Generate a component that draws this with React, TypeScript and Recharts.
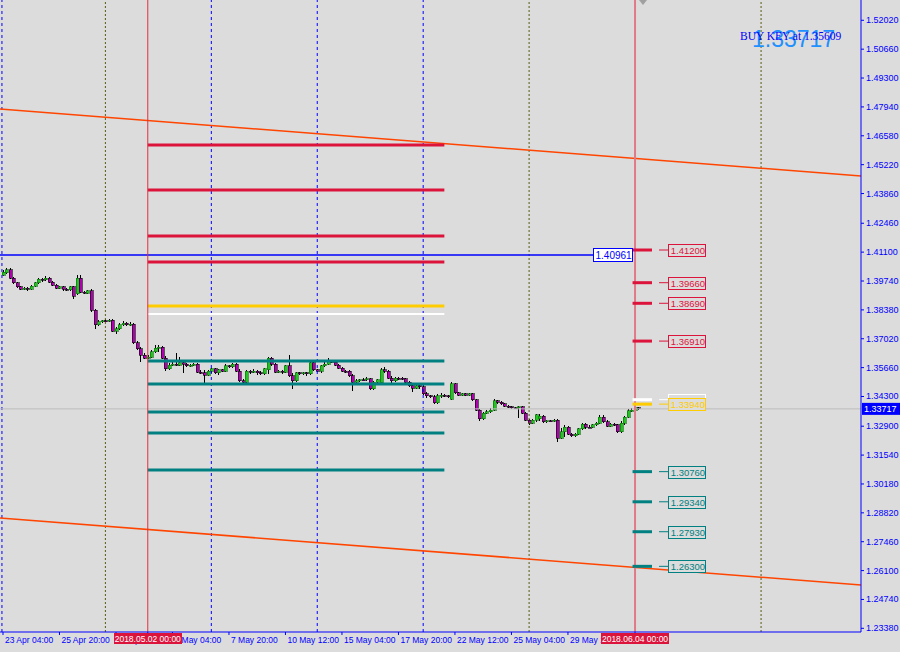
import { Bar, ComposedChart, ReferenceDot, ReferenceLine, XAxis, YAxis } from "recharts";

// H4 candles, 23 Apr 04:00 -> 4 Jun 04:00 (index = bar number)
const opens = [
  1.4002, 1.4012, 1.4026, 1.3988, 1.3965, 1.3946, 1.3936, 1.3941, 1.3936, 1.395,
  1.3965, 1.3983, 1.3979, 1.3988, 1.3969, 1.3955, 1.3941, 1.3946, 1.3936, 1.3932,
  1.3946, 1.3913, 1.3988, 1.3922, 1.3917, 1.3927, 1.3837, 1.3767, 1.3781, 1.3786,
  1.3786, 1.379, 1.3738, 1.3748, 1.3767, 1.3776, 1.3767, 1.3771, 1.3682, 1.3654,
  1.3625, 1.3611, 1.3616, 1.364, 1.3658, 1.3663, 1.3611, 1.356, 1.3578, 1.3583,
  1.3578, 1.3588, 1.3583, 1.3574, 1.3578, 1.3583, 1.3545, 1.3541, 1.3531, 1.355,
  1.356, 1.3541, 1.3555, 1.355, 1.3574, 1.3569, 1.3583, 1.355, 1.3503, 1.3498,
  1.355, 1.3545, 1.355, 1.3541, 1.3536, 1.3555, 1.3611, 1.3583, 1.3545, 1.355,
  1.3545, 1.3574, 1.3527, 1.3503, 1.3541, 1.3536, 1.3541, 1.3536, 1.3588, 1.3555,
  1.355, 1.3574, 1.3583, 1.3597, 1.3592, 1.3578, 1.3564, 1.355, 1.355, 1.3527,
  1.3498, 1.3503, 1.3508, 1.3508, 1.3513, 1.3466, 1.3498, 1.3494, 1.3555, 1.355,
  1.3517, 1.3503, 1.3517, 1.3517, 1.3513, 1.3498, 1.348, 1.347, 1.348, 1.3475,
  1.3442, 1.3433, 1.3428, 1.34, 1.3433, 1.3437, 1.3433, 1.3418, 1.3489, 1.3447,
  1.3437, 1.3442, 1.3437, 1.3442, 1.3414, 1.3366, 1.3324, 1.3352, 1.3357, 1.3366,
  1.3409, 1.3404, 1.3395, 1.3385, 1.3381, 1.3376, 1.3376, 1.3381, 1.3352, 1.3319,
  1.3305, 1.3319, 1.3324, 1.3338, 1.331, 1.3315, 1.3315, 1.3319, 1.3234, 1.3263,
  1.3286, 1.3253, 1.3244, 1.3253, 1.3277, 1.33, 1.3286, 1.3286, 1.3296, 1.3305,
  1.3333, 1.331, 1.3291, 1.33, 1.3296, 1.3263, 1.3305, 1.3333, 1.3362, 1.3366,
  1.3376,
];
const highs = [
  1.4026, 1.4035, 1.4035, 1.3993, 1.3969, 1.395, 1.3946, 1.3946, 1.3955, 1.3969,
  1.3988, 1.3988, 1.3998, 1.3993, 1.3974, 1.396, 1.395, 1.395, 1.3941, 1.395,
  1.395, 1.4002, 1.4002, 1.3927, 1.3932, 1.3936, 1.3842, 1.379, 1.379, 1.3795,
  1.3795, 1.3795, 1.3757, 1.3776, 1.3786, 1.3781, 1.3781, 1.3776, 1.3691, 1.3663,
  1.3635, 1.3625, 1.3649, 1.3673, 1.3673, 1.3668, 1.3621, 1.3588, 1.3592, 1.3635,
  1.3616, 1.3597, 1.3588, 1.3583, 1.3588, 1.3588, 1.3555, 1.3555, 1.3555, 1.3564,
  1.3564, 1.356, 1.356, 1.3583, 1.3578, 1.3588, 1.3588, 1.356, 1.3513, 1.3555,
  1.3555, 1.356, 1.3555, 1.355, 1.3564, 1.3616, 1.3616, 1.3588, 1.3555, 1.3555,
  1.3578, 1.3625, 1.3541, 1.3545, 1.3545, 1.3545, 1.3545, 1.3592, 1.3592, 1.356,
  1.3578, 1.3592, 1.3611, 1.3602, 1.3597, 1.3583, 1.3569, 1.3555, 1.3555, 1.3536,
  1.3513, 1.3513, 1.3517, 1.3522, 1.3517, 1.3503, 1.3513, 1.3564, 1.3569, 1.3555,
  1.3527, 1.3522, 1.3522, 1.3522, 1.3517, 1.3503, 1.3484, 1.3484, 1.3484, 1.3484,
  1.3451, 1.3437, 1.3437, 1.3442, 1.3447, 1.3442, 1.3437, 1.3498, 1.3494, 1.3451,
  1.3447, 1.3447, 1.3447, 1.3447, 1.3418, 1.3371, 1.3357, 1.3366, 1.3376, 1.3418,
  1.3414, 1.3409, 1.34, 1.339, 1.3385, 1.3381, 1.3385, 1.3385, 1.3357, 1.3324,
  1.3324, 1.3348, 1.3348, 1.3343, 1.3319, 1.3319, 1.3324, 1.3324, 1.3282, 1.3296,
  1.3291, 1.3258, 1.3258, 1.3282, 1.3305, 1.3305, 1.3296, 1.33, 1.331, 1.3343,
  1.3343, 1.3319, 1.3305, 1.3305, 1.33, 1.3315, 1.3338, 1.3371, 1.3376, 1.3385,
  1.3381,
];
const lows = [
  1.3998, 1.4007, 1.3983, 1.396, 1.3941, 1.3932, 1.3932, 1.3927, 1.3932, 1.3946,
  1.396, 1.3969, 1.3974, 1.3965, 1.395, 1.3936, 1.3936, 1.3927, 1.3927, 1.3927,
  1.3889, 1.3908, 1.3917, 1.3913, 1.3913, 1.3828, 1.3748, 1.3762, 1.3776, 1.3781,
  1.3781, 1.3734, 1.3724, 1.3743, 1.3762, 1.3762, 1.3762, 1.3677, 1.3649, 1.3592,
  1.3607, 1.3607, 1.3611, 1.3635, 1.364, 1.3607, 1.355, 1.3555, 1.3574, 1.3574,
  1.3574, 1.3541, 1.3569, 1.3569, 1.3574, 1.3541, 1.3536, 1.3494, 1.3527, 1.3541,
  1.3536, 1.3531, 1.3545, 1.3545, 1.3564, 1.3564, 1.3545, 1.3498, 1.3494, 1.3494,
  1.3536, 1.3541, 1.3531, 1.3531, 1.3531, 1.3536, 1.3574, 1.3541, 1.3541, 1.3536,
  1.3541, 1.3522, 1.3466, 1.3498, 1.3531, 1.3531, 1.3527, 1.3531, 1.355, 1.3545,
  1.3541, 1.3569, 1.3578, 1.3588, 1.3574, 1.356, 1.3545, 1.3541, 1.3522, 1.3456,
  1.3494, 1.3498, 1.3503, 1.3503, 1.3461, 1.3461, 1.3489, 1.3489, 1.3541, 1.3513,
  1.3489, 1.3498, 1.3508, 1.3508, 1.3494, 1.3475, 1.3451, 1.3466, 1.3466, 1.3437,
  1.3423, 1.3423, 1.3395, 1.3395, 1.3423, 1.3428, 1.3423, 1.3414, 1.3442, 1.3433,
  1.3433, 1.3433, 1.3433, 1.3409, 1.3362, 1.3315, 1.3319, 1.3348, 1.3352, 1.3362,
  1.3395, 1.339, 1.3381, 1.3376, 1.3371, 1.3371, 1.3329, 1.3348, 1.3315, 1.3296,
  1.33, 1.331, 1.3315, 1.3305, 1.3305, 1.331, 1.331, 1.3215, 1.323, 1.3239,
  1.3249, 1.3239, 1.3239, 1.3249, 1.3272, 1.3277, 1.3282, 1.3282, 1.3291, 1.33,
  1.3305, 1.3286, 1.3286, 1.3291, 1.3258, 1.3258, 1.3296, 1.3329, 1.3357, 1.3343,
  1.3366,
];
const closes = [
  1.4016, 1.4026, 1.3988, 1.3965, 1.3946, 1.3936, 1.3941, 1.3936, 1.395, 1.3965,
  1.3983, 1.3979, 1.3988, 1.3969, 1.3955, 1.3941, 1.3946, 1.3936, 1.3932, 1.3946,
  1.3903, 1.3988, 1.3922, 1.3917, 1.3927, 1.3837, 1.3767, 1.3781, 1.3786, 1.3785,
  1.379, 1.3738, 1.3748, 1.3767, 1.3776, 1.3767, 1.3771, 1.3682, 1.3654, 1.3625,
  1.3611, 1.3616, 1.364, 1.3658, 1.3663, 1.3611, 1.356, 1.3578, 1.3583, 1.3578,
  1.3588, 1.3583, 1.3574, 1.3578, 1.3583, 1.3545, 1.3541, 1.3531, 1.355, 1.356,
  1.3541, 1.3555, 1.355, 1.3574, 1.3569, 1.3583, 1.355, 1.3503, 1.3498, 1.355,
  1.3545, 1.355, 1.3541, 1.3536, 1.356, 1.3611, 1.3583, 1.3545, 1.355, 1.3545,
  1.3574, 1.3527, 1.3503, 1.3541, 1.3536, 1.3541, 1.3536, 1.3588, 1.3555, 1.355,
  1.3574, 1.3583, 1.3597, 1.3592, 1.3578, 1.3564, 1.355, 1.3548, 1.3527, 1.3498,
  1.3503, 1.3508, 1.3506, 1.3513, 1.3466, 1.3498, 1.3508, 1.3555, 1.355, 1.3517,
  1.3503, 1.3517, 1.3515, 1.3513, 1.3498, 1.348, 1.347, 1.348, 1.3475, 1.3442,
  1.3433, 1.3428, 1.34, 1.3433, 1.3437, 1.3433, 1.3428, 1.3489, 1.3447, 1.3437,
  1.3442, 1.3437, 1.3442, 1.3414, 1.3366, 1.3324, 1.3352, 1.3357, 1.3366, 1.3409,
  1.3404, 1.3395, 1.3385, 1.3381, 1.3376, 1.3374, 1.3381, 1.3352, 1.3319, 1.3305,
  1.3319, 1.3343, 1.3338, 1.331, 1.3315, 1.3313, 1.3319, 1.3234, 1.3263, 1.3286,
  1.3253, 1.3244, 1.3253, 1.3277, 1.33, 1.3286, 1.3284, 1.3296, 1.3305, 1.3333,
  1.331, 1.3291, 1.33, 1.3296, 1.3263, 1.3305, 1.3333, 1.3362, 1.3366, 1.3376,
  1.33717,
];

const timeTickIdx = [0, 16, 32, 48, 64, 80, 96, 112, 128, 144, 160];
const timeTickLabels = [
  "23 Apr 04:00", "25 Apr 20:00", "30 Apr 12:00", "3 May 04:00", "7 May 20:00", "10 May 12:00",
  "15 May 04:00", "17 May 20:00", "22 May 12:00", "25 May 04:00", "29 May 20:00",
];
const priceTicks = [
  1.5202, 1.5066, 1.493, 1.4794, 1.4658, 1.4522, 1.4386, 1.4246, 1.411, 1.3974, 1.3838,
  1.3702, 1.3566, 1.343, 1.329, 1.3154, 1.3018, 1.2882, 1.2746, 1.261, 1.2474, 1.2338,
];

// drawn objects
const zoneFrom = 41;
const zoneTo = 125;
const redZone = [1.46146, 1.44026, 1.41859, 1.40635];
const tealZone = [1.35972, 1.34889, 1.3357, 1.32581, 1.30838];
const goldZone = 1.38562;
const whiteZone = 1.38186;

const redTargets = [1.412, 1.3966, 1.3869, 1.3691];
const tealTargets = [1.3076, 1.2934, 1.2793, 1.263];
const whiteTarget = 1.3415;
const goldTarget = 1.3394;

const channelEnds = [-0.85, 243];
const upperChannel = [1.47841, 1.44685];
const lowerChannel = [1.28577, 1.25422];

const blueLevel = 1.40961;
const blueLevelEnd = 167.1;
const bid = 1.33717;
const buyKey = 1.35609;

const blueSeparators = [-0.3, 59, 89, 119];
const darkSeparators = [29, 149, 214.7];
const dateLines = [41, 179];
const dateLineLabels = ["2018.05.02 00:00", "2018.06.04 00:00"];

const data = closes.map((c, i) => ({ i, open: opens[i], high: highs[i], low: lows[i], close: c }));

const BG = "#dcdcdc";
const AXIS = "#0000ff";
const FONT = "'Liberation Sans', Arial, sans-serif";

const Candle = (props: any) => {
  const { x, y, width, height, payload } = props;
  const { open, close, high, low } = payload;
  const cx = Math.round(x + width / 2) + 0.5;
  const py = (v: number) => (high === low ? y : y + ((high - v) / (high - low)) * height);
  const up = close >= open;
  const top = py(Math.max(open, close));
  const bot = py(Math.min(open, close));
  return (
    <g shapeRendering="crispEdges">
      <line x1={cx} x2={cx} y1={y} y2={y + height} stroke="#000" strokeWidth={1} />
      <rect
        x={cx - 1.5}
        y={top}
        width={3}
        height={Math.max(bot - top, 1)}
        fill={up ? "#22c422" : "#b000b0"}
        stroke={up ? "#0a6a0a" : "#000"}
        strokeWidth={0.6}
      />
    </g>
  );
};

// time labels first, the two red date boxes last so they cover what lies under them
const TimeTick = (p: any) => {
  const v = p.payload.value;
  const d = dateLines.indexOf(v);
  if (d >= 0) {
    return (
      <g>
        <rect x={Math.round(p.x) - 34} y={p.y - 2} width={68} height={11} fill="#dc143c" />
        <text x={p.x} y={p.y + 7} textAnchor="middle" fontSize={8.5} fontFamily={FONT} fill="#fff">
          {dateLineLabels[d]}
        </text>
      </g>
    );
  }
  return (
    <text x={p.x + 2} y={p.y + 8} fontSize={8.5} fontFamily={FONT} fill={AXIS}>
      {timeTickLabels[timeTickIdx.indexOf(v)]}
    </text>
  );
};

const PriceTick = (p: any) => (
  <text x={p.x} y={p.y + 3} fontSize={9} fontFamily={FONT} fill={AXIS}>
    {Number(p.payload.value).toFixed(5)}
  </text>
);

const priceBox = (color: string, fill: string, text: string) => (p: any) => (
  <g>
    <rect x={Math.round(p.cx) + 0.5} y={Math.round(p.cy) - 5.5} width={37} height={12} fill={fill} stroke={color} shapeRendering="crispEdges" />
    <text x={p.cx + 2.5} y={p.cy + 4} fontSize={9.5} fontFamily={FONT} fill={color}>
      {text}
    </text>
  </g>
);

const targetMarks = (levels: number[], color: string, fill: string) =>
  levels.flatMap((v, k) => [
    <ReferenceLine key={`m${color}${k}`} ifOverflow="visible" stroke={color} strokeWidth={3}
      segment={[{ x: 178.3, y: v }, { x: 183.8, y: v }]} />,
    <ReferenceLine key={`c${color}${k}`} ifOverflow="visible" stroke={color} strokeWidth={1}
      segment={[{ x: 185.8, y: v }, { x: 188.4, y: v }]} />,
    <ReferenceDot key={`b${color}${k}`} ifOverflow="visible" x={188.4} y={v} r={0}
      shape={priceBox(color, fill, v.toFixed(5))} />,
  ]);

export default function App() {
  return (
    <div style={{ position: "relative", width: 900, height: 652, background: BG, overflow: "hidden" }}>
      <style>{"body{margin:0}"}</style>
      <ComposedChart width={900} height={652} data={data} margin={{ top: 0, right: 0, bottom: 0, left: 0 }}>
        <XAxis
          dataKey="i"
          type="number"
          domain={[-0.85, 243]}
          allowDataOverflow
          ticks={[...timeTickIdx, ...dateLines]}
          interval={0}
          height={20}
          tickSize={3}
          tickMargin={0}
          stroke={AXIS}
          tick={<TimeTick />}
        />
        <YAxis
          orientation="right"
          type="number"
          domain={[1.23207, 1.52976]}
          allowDataOverflow
          ticks={priceTicks}
          interval={0}
          width={39}
          tickSize={3}
          tickMargin={2}
          stroke={AXIS}
          tick={<PriceTick />}
        />

        {blueSeparators.map((v) => (
          <ReferenceLine key={`bs${v}`} x={v} ifOverflow="visible" stroke="#0000ff" strokeDasharray="3 3" />
        ))}
        {darkSeparators.map((v) => (
          <ReferenceLine key={`ds${v}`} x={v} ifOverflow="visible" stroke="#5a5a14" strokeDasharray="2 2" />
        ))}

        <ReferenceLine
          y={bid}
          ifOverflow="visible"
          stroke="#bdbdbd"
          label={(p: any) => (
            <g>
              <rect x={p.viewBox.x + p.viewBox.width + 1} y={p.viewBox.y - 6} width={38} height={12} fill="#0000ff" />
              <text x={p.viewBox.x + p.viewBox.width + 3} y={p.viewBox.y + 3.5} fontSize={9} fontFamily={FONT} fill="#fff">
                {bid.toFixed(5)}
              </text>
            </g>
          )}
        />

        <Bar dataKey={(d: any) => [d.low, d.high]} barSize={3} shape={<Candle />} isAnimationActive={false} />

        <ReferenceLine ifOverflow="visible" stroke="#ff4500" strokeWidth={1.6}
          segment={[{ x: channelEnds[0], y: upperChannel[0] }, { x: channelEnds[1], y: upperChannel[1] }]} />
        <ReferenceLine ifOverflow="visible" stroke="#ff4500" strokeWidth={1.6}
          segment={[{ x: channelEnds[0], y: lowerChannel[0] }, { x: channelEnds[1], y: lowerChannel[1] }]} />

        {redZone.map((v) => (
          <ReferenceLine key={`rz${v}`} ifOverflow="visible" stroke="#dc143c" strokeWidth={3}
            segment={[{ x: zoneFrom, y: v }, { x: zoneTo, y: v }]} />
        ))}
        <ReferenceLine ifOverflow="visible" stroke="#ffcc00" strokeWidth={3}
          segment={[{ x: zoneFrom, y: goldZone }, { x: zoneTo, y: goldZone }]} />
        <ReferenceLine ifOverflow="visible" stroke="#ffffff" strokeWidth={2}
          segment={[{ x: zoneFrom, y: whiteZone }, { x: zoneTo, y: whiteZone }]} />
        {tealZone.map((v) => (
          <ReferenceLine key={`tz${v}`} ifOverflow="visible" stroke="#008080" strokeWidth={3}
            segment={[{ x: zoneFrom, y: v }, { x: zoneTo, y: v }]} />
        ))}

        <ReferenceLine ifOverflow="visible" stroke="#0000ff" strokeWidth={1.5}
          segment={[{ x: channelEnds[0], y: blueLevel }, { x: blueLevelEnd, y: blueLevel }]} />
        <ReferenceDot ifOverflow="visible" x={blueLevelEnd} y={blueLevel} r={0}
          shape={(p: any) => (
            <g>
              <rect x={Math.round(p.cx) + 0.5} y={Math.round(p.cy) - 6.5} width={39} height={13} fill="#ffffff" stroke="#0000ff" shapeRendering="crispEdges" />
              <text x={p.cx + 2.5} y={p.cy + 4} fontSize={10} fontFamily={FONT} fill="#0000ff">
                {blueLevel.toFixed(5)}
              </text>
            </g>
          )} />

        {dateLines.map((v, k) => (
          <ReferenceLine
            key={`dl${v}`}
            x={v}
            ifOverflow="visible"
            stroke={k === 0 ? "#e0303c" : "#e07a88"}
            strokeWidth={k === 0 ? 1 : 2}
          />
        ))}

        {targetMarks(redTargets, "#dc143c", BG)}
        {targetMarks([whiteTarget], "#ffffff", BG)}
        {targetMarks([goldTarget], "#ffcc00", BG)}
        {targetMarks(tealTargets, "#008080", BG)}
      </ComposedChart>

      <svg width={900} height={652} style={{ position: "absolute", left: 0, top: 0, pointerEvents: "none" }}>
        <polygon points="639,0 647,0 643,5" fill="#a0a0a0" />
        <text x={752} y={47} fontSize={23} fontFamily={FONT} fill="#1e90ff">
          {bid.toFixed(5)}
        </text>
        <text x={740} y={40} fontSize={11.5} fontFamily="'Liberation Serif', 'Times New Roman', serif" fill="#0000ff">
          {`BUY KEY at ${buyKey.toFixed(5)}`}
        </text>
      </svg>
    </div>
  );
}
